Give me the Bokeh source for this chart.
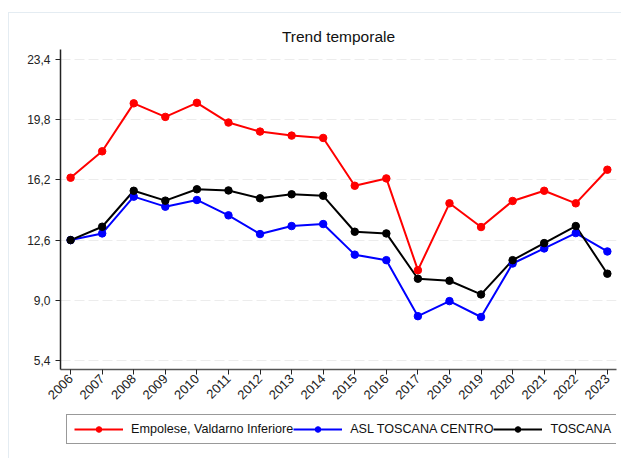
from bokeh.plotting import figure
from bokeh.layouts import column
from bokeh.models import Range1d, FixedTicker, CustomJSTickFormatter, Legend, LegendItem
from bokeh.embed import file_html
from bokeh.resources import INLINE
import math

years = list(range(2006, 2024))
empolese = [16.33, 17.91, 20.78, 19.97, 20.81, 19.63, 19.09, 18.85, 18.71, 15.85,
            16.29, 10.8, 14.8, 13.38, 14.94, 15.55, 14.8, 16.81]
asl = [12.6, 13.0, 15.2, 14.6, 15.0, 14.08, 12.96, 13.44, 13.56, 11.73,
       11.4, 8.05, 8.95, 8.0, 11.2, 12.1, 13.02, 11.92]
toscana = [12.6, 13.4, 15.55, 14.96, 15.64, 15.57, 15.1, 15.34, 15.25, 13.1,
           13.0, 10.29, 10.17, 9.35, 11.4, 12.42, 13.44, 10.59]
y_ticks = [5.4, 9.0, 12.6, 16.2, 19.8, 23.4]
series_names = ["Empolese, Valdarno Inferiore", "ASL TOSCANA CENTRO", "TOSCANA"]
colors = ["#ff0000", "#0000ff", "#000000"]

FONT = "Liberation Sans"

p = figure(width=612, height=393, output_backend="svg", toolbar_location=None,
           x_range=Range1d(2005.68, 2023.29), y_range=Range1d(4.86, 24.0),
           min_border_left=51, min_border_right=5, min_border_top=36,
           min_border_bottom=30, title="Trend temporale")
p.outline_line_color = None
p.background_fill_color = "white"
p.border_fill_color = "white"

p.title.align = "center"
p.title.text_font = FONT
p.title.text_font_size = "15.5px"
p.title.text_font_style = "normal"
p.title.text_color = "#111111"

series = [empolese, asl, toscana]
for vals, c in zip(series, colors):
    p.line(years, vals, line_color=c, line_width=2)
for vals, c in zip(series, colors):
    p.scatter(years, vals, marker="circle", size=7.5, fill_color=c, line_color=c)

# axes
p.xaxis.ticker = FixedTicker(ticks=years)
p.xaxis.major_label_orientation = math.pi / 4
p.yaxis.ticker = FixedTicker(ticks=y_ticks)
p.yaxis.formatter = CustomJSTickFormatter(code="return tick.toFixed(1).replace('.', ',');")
for ax in (p.xaxis, p.yaxis):
    ax.major_label_text_font = FONT
    ax.major_label_text_font_size = "12px"
    ax.major_label_text_color = "#222222"
    ax.axis_line_color = "#222222"
    ax.axis_line_width = 1.5
    ax.major_tick_line_color = "#222222"
    ax.major_tick_in = 0
    ax.major_tick_out = 5
    ax.minor_tick_line_color = None
p.xaxis.axis_line_color = "#555555"
p.xaxis.major_label_text_font_size = "13px"
p.xaxis.major_label_standoff = 2

p.xgrid.grid_line_color = None
p.ygrid.grid_line_color = "#ececec"
p.ygrid.grid_line_dash = "10 4"
p.ygrid.grid_line_width = 1

# legend strip (own small figure so the box is not clipped by the plot frame);
# its glyphs use the same data but lie outside this strip's ranges (invisible)
pl = figure(width=612, height=52, output_backend="svg", toolbar_location=None,
            x_range=Range1d(0, 1), y_range=Range1d(0, 1),
            min_border=0, x_axis_type=None, y_axis_type=None)
pl.outline_line_color = None
pl.xgrid.grid_line_color = None
pl.ygrid.grid_line_color = None
items = []
for n, vals, c in zip(series_names, series, colors):
    l = pl.line(years, vals, line_color=c, line_width=2)
    m = pl.scatter(years, vals, marker="circle", size=6, fill_color=c, line_color=c)
    items.append(LegendItem(label=n, renderers=[l, m]))
legend = Legend(items=items, orientation="horizontal", location=(6, 14),
                glyph_width=49, glyph_height=14, label_height=14, label_standoff=8,
                spacing=0, padding=7, margin=0,
                label_text_font=FONT, label_text_font_size="12.6px", label_text_color="#111111",
                border_line_color="#333333", border_line_width=1.2,
                background_fill_alpha=1.0)
pl.add_layout(legend, "center")

layout = column(p, pl, spacing=0,
                styles={"border-top": "1px solid #e4ecf2", "border-left": "1px solid #e4ecf2",
                        "margin-top": "12px", "margin-left": "8px"})

open("out.html", "w").write(file_html(layout, INLINE))
